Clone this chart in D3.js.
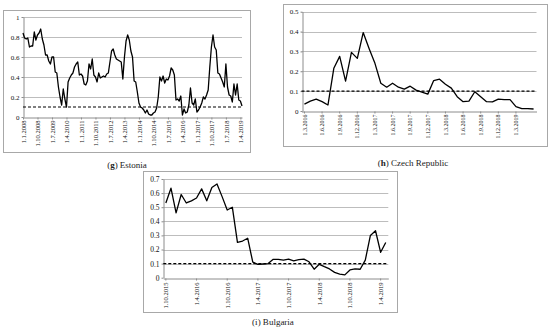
<!DOCTYPE html>
<html>
<head>
<meta charset="utf-8">
<script src="https://cdn.jsdelivr.net/npm/d3@7"></script>
<style>
  body { margin: 0; background: #fff; }
  svg { display: block; font-family: "Liberation Serif", "DejaVu Serif", serif; }
</style>
</head>
<body>
<svg id="chart" width="550" height="330"></svg>
<script>
// ---- data ----
const threshold = 0.1;

// Estonia, monthly from 1.1.2008
const estoniaValues = [
  0.84, 0.79, 0.78, 0.79, 0.70, 0.71, 0.71, 0.85, 0.77, 0.82,
  0.84, 0.88, 0.78, 0.72, 0.62, 0.62, 0.56, 0.53, 0.60, 0.60,
  0.45, 0.44, 0.30, 0.20, 0.12, 0.28, 0.18, 0.10, 0.35, 0.39,
  0.42, 0.44, 0.50, 0.53, 0.55, 0.42, 0.43, 0.41, 0.33, 0.32,
  0.36, 0.53, 0.48, 0.58, 0.42, 0.40, 0.35, 0.44, 0.39, 0.40,
  0.41, 0.40, 0.43, 0.44, 0.55, 0.66, 0.68, 0.62, 0.58, 0.57,
  0.56, 0.55, 0.38, 0.60, 0.76, 0.82, 0.77, 0.66, 0.60, 0.36,
  0.35, 0.25, 0.14, 0.10, 0.09, 0.07, 0.04, 0.07, 0.03, 0.02,
  0.02, 0.04, 0.05, 0.09, 0.20, 0.40, 0.36, 0.41, 0.34, 0.38,
  0.37, 0.41, 0.49, 0.47, 0.42, 0.17, 0.18, 0.16, 0.21, 0.02,
  0.08, 0.04, 0.05, 0.12, 0.29, 0.14, 0.12, 0.18, 0.05, 0.07,
  0.10, 0.14, 0.20, 0.18, 0.22, 0.27, 0.50, 0.70, 0.82, 0.70,
  0.67, 0.44, 0.43, 0.39, 0.35, 0.30, 0.53, 0.30, 0.22, 0.21,
  0.15, 0.33, 0.22, 0.33, 0.17, 0.16, 0.11
];
const estoniaTicks = ["1.1.2008", "1.10.2008", "1.7.2009", "1.4.2010", "1.1.2011", "1.10.2011",
  "1.7.2012", "1.4.2013", "1.1.2014", "1.10.2014", "1.7.2015", "1.4.2016", "1.1.2017",
  "1.10.2017", "1.7.2018", "1.4.2019"];
const estoniaYTicks = [0, 0.2, 0.4, 0.6, 0.8, 1];

// Czech Republic, monthly from 1.3.2016
const czechValues = [
  0.035, 0.05, 0.06, 0.047, 0.03, 0.215, 0.275, 0.15, 0.295, 0.265,
  0.395, 0.315, 0.24, 0.14, 0.12, 0.14, 0.12, 0.11, 0.125, 0.105,
  0.095, 0.085, 0.153, 0.16, 0.135, 0.115, 0.072, 0.047, 0.05, 0.097,
  0.072, 0.047, 0.046, 0.06, 0.057, 0.057, 0.022, 0.012, 0.012, 0.01
];
const czechTicks = ["1.3.2016", "1.6.2016", "1.9.2016", "1.12.2016", "1.3.2017", "1.6.2017",
  "1.9.2017", "1.12.2017", "1.3.2018", "1.6.2018", "1.9.2018", "1.12.2018", "1.3.2019"];
const czechYTicks = [0, 0.1, 0.2, 0.3, 0.4, 0.5];

// Bulgaria, monthly from 1.10.2015
const bulgariaValues = [
  0.53, 0.635, 0.46, 0.59, 0.53, 0.545, 0.565, 0.63, 0.545, 0.64,
  0.665, 0.575, 0.48, 0.50, 0.25, 0.26, 0.28, 0.11, 0.095, 0.097,
  0.10, 0.13, 0.13, 0.125, 0.132, 0.12, 0.128, 0.132, 0.113, 0.06,
  0.095, 0.078, 0.062, 0.038, 0.026, 0.02, 0.055, 0.062, 0.06, 0.125,
  0.30, 0.333, 0.18, 0.25
];
const bulgariaTicks = ["1.10.2015", "1.4.2016", "1.10.2016", "1.4.2017", "1.10.2017",
  "1.4.2018", "1.10.2018", "1.4.2019"];
const bulgariaYTicks = [0, 0.1, 0.2, 0.3, 0.4, 0.5, 0.6, 0.7];

// month labels like "1.3.2016"
function monthsFrom(month, year, n) {
  const out = [];
  for (let i = 0; i < n; i++) {
    const m = (month - 1 + i) % 12 + 1;
    const y = year + Math.floor((month - 1 + i) / 12);
    out.push("1." + m + "." + y);
  }
  return out;
}

const svg = d3.select("#chart");

function drawPanel(p) {
  const g = svg.append("g");

  // outer frame
  g.append("rect")
    .attr("x", p.frame[0] + 0.5).attr("y", p.frame[1] + 0.5)
    .attr("width", p.frame[2] - p.frame[0]).attr("height", p.frame[3] - p.frame[1])
    .attr("fill", "#fff").attr("stroke", "#a8a8a8").attr("stroke-width", 1);

  const cats = monthsFrom(p.start[0], p.start[1], p.values.length);

  let x, xc;
  if (p.band) {
    x = d3.scaleBand().domain(cats).range([p.left, p.right]).paddingInner(0).paddingOuter(0);
    xc = d => x(d) + x.bandwidth() / 2;
  } else {
    x = d3.scalePoint().domain(cats).range([p.left, p.right]).padding(0);
    xc = d => x(d);
  }
  const y = d3.scaleLinear().domain([0, p.yMax]).range([p.bottom, p.top]);

  // gridlines
  g.append("g").selectAll("line")
    .data(p.yTicks.filter(d => d > 0))
    .enter().append("line")
    .attr("x1", p.left).attr("x2", p.right)
    .attr("y1", d => Math.round(y(d)) + 0.5).attr("y2", d => Math.round(y(d)) + 0.5)
    .attr("stroke", "#bdbdbd").attr("stroke-width", 1);

  // y axis
  const ya = g.append("g")
    .attr("transform", "translate(" + (Math.round(p.left) + 0.5) + ",0)")
    .call(d3.axisLeft(y).tickValues(p.yTicks).tickSize(2).tickSizeOuter(0)
      .tickFormat(d => String(d)));
  ya.select(".domain").attr("stroke", "#8c8c8c");
  ya.selectAll(".tick line").attr("stroke", "#8c8c8c");
  ya.selectAll("text")
    .attr("x", -4)
    .style("font-family", "Liberation Serif, serif")
    .style("font-size", p.ySize + "px").attr("fill", "#111");

  // x axis
  const xa = g.append("g")
    .attr("transform", "translate(0," + (Math.round(p.bottom) + 0.5) + ")")
    .call(d3.axisBottom(x).tickValues(p.ticks).tickSize(2).tickSizeOuter(0));
  xa.select(".domain").attr("stroke", "#8c8c8c");
  xa.selectAll(".tick line").attr("stroke", "#8c8c8c");
  xa.selectAll("text")
    .attr("transform", "translate(0," + p.labelGap + ") rotate(-90)")
    .attr("x", 0).attr("y", 0).attr("dy", "0.35em")
    .style("text-anchor", "end")
    .style("font-family", "Liberation Serif, serif")
    .style("font-size", p.xSize + "px").attr("fill", "#111");

  // threshold
  g.append("line")
    .attr("x1", p.left).attr("x2", p.right)
    .attr("y1", y(threshold)).attr("y2", y(threshold))
    .attr("stroke", "#000").attr("stroke-width", 1.2)
    .attr("stroke-dasharray", "3,2");

  // series line
  const line = d3.line()
    .x((d, i) => xc(cats[i]))
    .y(d => y(d));
  g.append("path")
    .datum(p.values)
    .attr("d", line)
    .attr("fill", "none")
    .attr("stroke", "#000")
    .attr("stroke-width", 1.3)
    .attr("stroke-linejoin", "round");

  // caption
  const cap = svg.append("text")
    .attr("x", p.caption.x).attr("y", p.caption.y)
    .attr("text-anchor", "middle")
    .style("font-family", "Liberation Serif, serif")
    .style("font-size", "9px").attr("fill", "#222");
  cap.append("tspan").text("(");
  cap.append("tspan").text(p.caption.letter)
    .style("font-weight", p.caption.bold ? "bold" : "normal");
  cap.append("tspan").text(") " + p.caption.name);
}

drawPanel({
  frame: [3, 10, 250, 152],
  left: 23, right: 242, top: 17, bottom: 117,
  yMax: 1, yTicks: estoniaYTicks, ticks: estoniaTicks,
  values: estoniaValues, start: [1, 2008], band: false,
  ySize: 7, xSize: 6.5, labelGap: 3,
  caption: { x: 127, y: 168, letter: "g", bold: true, name: "Estonia" }
});

drawPanel({
  frame: [283, 4, 547, 146],
  left: 301.5, right: 536.5, top: 11.7, bottom: 111,
  yMax: 0.5, yTicks: czechYTicks, ticks: czechTicks,
  values: czechValues, start: [3, 2016], band: true,
  ySize: 7, xSize: 6, labelGap: 3,
  caption: { x: 413, y: 166, letter: "h", bold: true, name: "Czech Republic" }
});

drawPanel({
  frame: [143, 171, 397, 312],
  left: 163.3, right: 388.3, top: 179, bottom: 277.7,
  yMax: 0.7, yTicks: bulgariaYTicks, ticks: bulgariaTicks,
  values: bulgariaValues, start: [10, 2015], band: true,
  ySize: 7.5, xSize: 6.5, labelGap: 4,
  caption: { x: 273, y: 325, letter: "i", bold: false, name: "Bulgaria" }
});
</script>
</body>
</html>
